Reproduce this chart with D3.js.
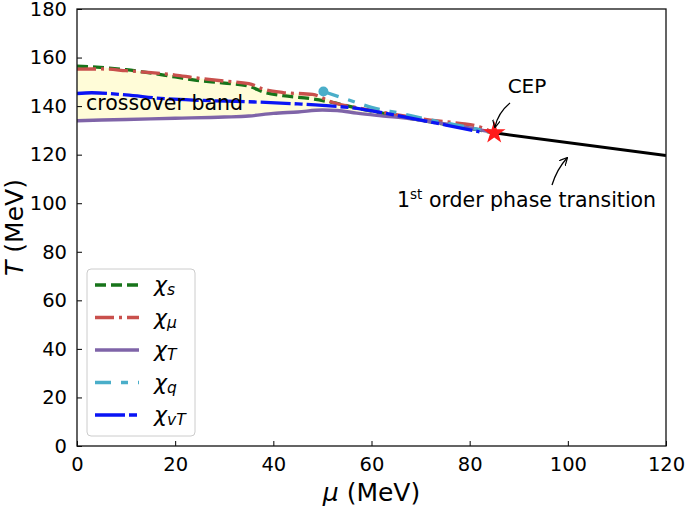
<!DOCTYPE html>
<html>
<head>
<meta charset="utf-8">
<script src="https://cdn.jsdelivr.net/npm/d3@7"></script>
<style>
  body { margin: 0; background: #fff; }
  svg { font-family: "DejaVu Sans", sans-serif; }
  .tick text { font-size: 19.5px; fill: #000; }
</style>
</head>
<body>
<div id="chart"></div>
<script>
// values
const muTicks = [0, 20, 40, 60, 80, 100, 120];
const tTicks = [0, 20, 40, 60, 80, 100, 120, 140, 160, 180];

const chiSMu = [0, 10, 20, 24, 30, 35, 38, 42, 48, 52, 58, 65, 72, 78, 85];
const chiS = [156.5, 155, 152, 150.7, 149.5, 148.2, 145.8, 144.3, 143, 141.5, 138.8, 136, 133.5, 131.5, 129];

const chiMuMu = [0, 5, 10, 20, 24, 30, 35, 38, 42, 48, 52, 58, 65, 72, 78, 82, 85];
const chiMu = [155.2, 155.3, 154.6, 152.8, 151.7, 150.3, 149.3, 147, 145.6, 144.8, 141.6, 139, 136.5, 134.2, 132.9, 131.5, 129];

const chiTMu = [0, 10, 20, 30, 35, 40, 45, 50, 53, 57, 62, 68, 74, 80, 84];
const chiT = [134, 134.5, 135, 135.5, 135.9, 137, 137.6, 138.4, 138.2, 137.1, 136, 134.8, 133, 131, 129.5];

const chiQMu = [50.2, 55, 60, 66, 72, 78, 84];
const chiQ = [146, 142.8, 139.5, 137, 134.3, 132, 129.5];

const chiVTMu = [0, 3, 10, 17, 25, 35, 45, 50, 58, 65, 72, 78, 82];
const chiVT = [145.2, 145.5, 144.6, 143.2, 142.4, 141.8, 140.9, 140.3, 138.8, 136.2, 133.5, 131, 129.4];

const bandMu = [0, 5, 10, 15, 20, 25, 30, 35, 38, 42, 46, 50, 55, 60, 65, 70, 75, 80, 85];
const bandTop = [156.5, 156, 155, 154, 152.8, 151.5, 150.3, 149.3, 147, 145.6, 145, 143.5, 140.5, 138.5, 136.5, 134.5, 133, 131.5, 129];
const bandBottom = [134, 134.3, 134.5, 134.8, 135, 135.2, 135.5, 135.9, 136.6, 137.2, 137.8, 138.4, 137.6, 136.5, 135.5, 134.3, 132.8, 131, 129.3];

const firstOrderMu = [85, 120];
const firstOrderT = [129, 119.6];
const cep = [85, 129];

const seriesNames = ["s", "μ", "T", "q", "vT"];

const width = 685, height = 508;
const margin = { left: 77, right: 19, top: 9, bottom: 62 };

const svg = d3.select("#chart").append("svg")
  .attr("width", width)
  .attr("height", height);

const x = d3.scaleLinear().domain([0, 120]).range([margin.left, width - margin.right]);
const y = d3.scaleLinear().domain([0, 180]).range([height - margin.bottom, margin.top]);

svg.append("clipPath").attr("id", "plot-clip")
  .append("rect")
  .attr("x", x(0)).attr("y", y(180))
  .attr("width", x(120) - x(0)).attr("height", y(0) - y(180));

const plot = svg.append("g").attr("clip-path", "url(#plot-clip)");

// crossover band fill
const band = bandMu.map((m, i) => ({ m, top: bandTop[i], bot: bandBottom[i] }));
plot.append("path")
  .datum(band)
  .attr("fill", "#fffcd8")
  .attr("d", d3.area()
    .x(d => x(d.m))
    .y0(d => y(d.bot))
    .y1(d => y(d.top))
    .curve(d3.curveMonotoneX));

const zip = (ms, ts) => ms.map((m, i) => [m, ts[i]]);
const line = d3.line().x(d => x(d[0])).y(d => y(d[1])).curve(d3.curveMonotoneX);

const styles = [
  { data: zip(chiSMu, chiS), color: "#17741a", dash: "11,5", width: 3.3 },
  { data: zip(chiMuMu, chiMu), color: "#c9504c", dash: "19,5,3,5", width: 3.3 },
  { data: zip(chiTMu, chiT), color: "#7f64a8", dash: null, width: 3.4 },
  { data: zip(chiQMu, chiQ), color: "#4aaec9", dash: "16,10,7,10", width: 3.3 },
  { data: zip(chiVTMu, chiVT), color: "#0a14f5", dash: "30,4,8,4", width: 3.3 }
];

// first order line
plot.append("path")
  .datum(zip(firstOrderMu, firstOrderT))
  .attr("fill", "none")
  .attr("stroke", "#000")
  .attr("stroke-width", 3)
  .attr("d", d3.line().x(d => x(d[0])).y(d => y(d[1])));

styles.forEach(s => {
  plot.append("path")
    .datum(s.data)
    .attr("fill", "none")
    .attr("stroke", s.color)
    .attr("stroke-width", s.width)
    .attr("stroke-dasharray", s.dash)
    .attr("d", line);
});

// marker at the start of chi_q
plot.append("circle")
  .attr("cx", x(chiQMu[0])).attr("cy", y(chiQ[0]))
  .attr("r", 5)
  .attr("fill", styles[3].color);

// CEP star
svg.append("path")
  .attr("transform", `translate(${x(cep[0])},${y(cep[1])})`)
  .attr("d", d3.symbol().type(d3.symbolStar).size(160))
  .attr("fill", "#ff1a1a");

// axes
const xAxis = svg.append("g")
  .attr("transform", `translate(0,${y(0)})`)
  .call(d3.axisBottom(x).tickValues(muTicks).tickSize(-5).tickPadding(11));
const yAxis = svg.append("g")
  .attr("transform", `translate(${x(0)},0)`)
  .call(d3.axisLeft(y).tickValues(tTicks).tickSize(-5).tickPadding(10));
[xAxis, yAxis].forEach(a => {
  a.select(".domain").remove();
  a.selectAll(".tick line").attr("stroke", "#000").attr("stroke-width", 1);
  a.selectAll(".tick text").attr("font-family", "DejaVu Sans");
});

svg.append("rect")
  .attr("x", x(0)).attr("y", y(180))
  .attr("width", x(120) - x(0)).attr("height", y(0) - y(180))
  .attr("fill", "none").attr("stroke", "#111").attr("stroke-width", 1.3);

// axis titles
const xTitle = svg.append("text")
  .attr("x", (x(0) + x(120)) / 2).attr("y", 501)
  .attr("text-anchor", "middle").attr("font-size", 25);
xTitle.append("tspan").attr("font-style", "italic").text("μ");
xTitle.append("tspan").text(" (MeV)");

const yTitle = svg.append("text")
  .attr("transform", `translate(23,${(y(0) + y(180)) / 2}) rotate(-90)`)
  .attr("text-anchor", "middle").attr("font-size", 25);
yTitle.append("tspan").attr("font-style", "italic").text("T");
yTitle.append("tspan").text(" (MeV)");

// annotations
svg.append("text")
  .attr("x", 86).attr("y", 110)
  .attr("font-size", 20.5)
  .text("crossover band");

svg.append("text")
  .attr("x", 527).attr("y", 93)
  .attr("text-anchor", "middle").attr("font-size", 20)
  .text("CEP");

const fo = svg.append("text")
  .attr("x", 397).attr("y", 207)
  .attr("font-size", 20.5);
fo.append("tspan").text("1");
fo.append("tspan").attr("font-size", 13.5).attr("dy", -8).text("st");
fo.append("tspan").attr("dy", 8).text(" order phase transition");

svg.append("defs").append("marker")
  .attr("id", "arrowhead")
  .attr("viewBox", "0 0 10 10")
  .attr("refX", 9).attr("refY", 5)
  .attr("markerWidth", 8).attr("markerHeight", 8)
  .attr("markerUnits", "userSpaceOnUse")
  .attr("orient", "auto")
  .append("path")
  .attr("d", "M0,0 L10,5 L0,10")
  .attr("fill", "none").attr("stroke", "#000").attr("stroke-width", 1.5);

svg.append("path")
  .attr("d", "M510,103 Q498,113 495,127")
  .attr("fill", "none").attr("stroke", "#000").attr("stroke-width", 1.3)
  .attr("marker-end", "url(#arrowhead)");

svg.append("path")
  .attr("d", "M552,185 Q557,169 567,158")
  .attr("fill", "none").attr("stroke", "#000").attr("stroke-width", 1.3)
  .attr("marker-end", "url(#arrowhead)");

// legend
const lg = svg.append("g").attr("transform", "translate(87,269)");
lg.append("rect")
  .attr("width", 108).attr("height", 167)
  .attr("rx", 4)
  .attr("fill", "#fff").attr("fill-opacity", 0.8)
  .attr("stroke", "#ccc").attr("stroke-width", 1);
styles.forEach((s, i) => {
  const cy = 16 + i * 32.5;
  lg.append("line")
    .attr("x1", 8).attr("x2", 52)
    .attr("y1", cy).attr("y2", cy)
    .attr("stroke", s.color)
    .attr("stroke-width", s.width)
    .attr("stroke-dasharray", s.dash);
  const t = lg.append("text")
    .attr("x", 67).attr("y", cy + 7)
    .attr("font-size", 22).attr("font-style", "italic");
  t.append("tspan").text("χ");
  t.append("tspan").attr("font-size", 15.5).attr("dy", 3).text(seriesNames[i]);
});
</script>
</body>
</html>
